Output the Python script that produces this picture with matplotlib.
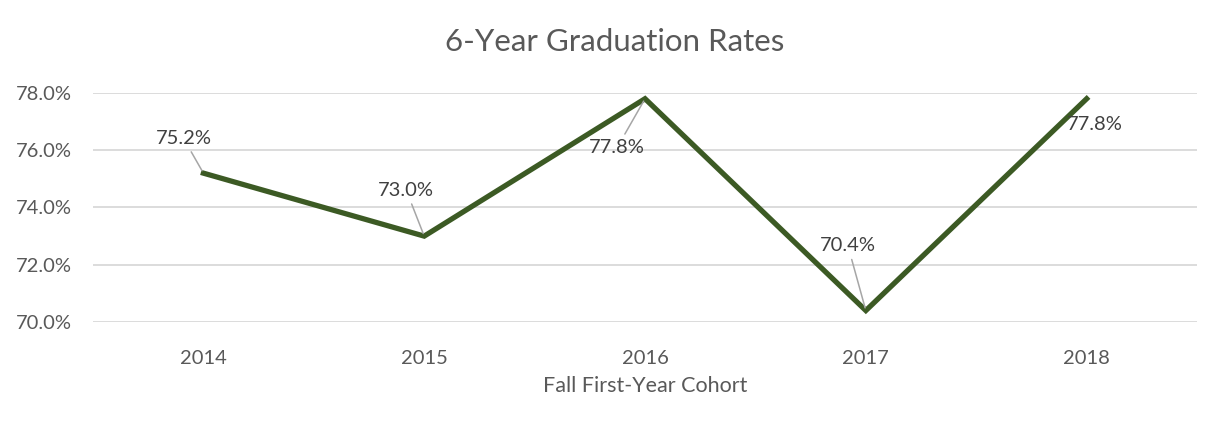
import matplotlib.pyplot as plt
from matplotlib.ticker import FuncFormatter

plt.rcParams['font.family'] = ['Lato', 'DejaVu Sans']

years = ['2014', '2015', '2016', '2017', '2018']
rates = [75.2, 73.0, 77.8, 70.4, 77.8]
label_text = ['75.2%', '73.0%', '77.8%', '70.4%', '77.8%']
# label offsets in pixels (dx, dy) and whether a leader line is drawn
offsets = [(-20, 35), (-18, 46), (-28, -49), (-18, 65), (8, -26)]
leaders = [True, True, True, True, False]

fig = plt.figure(figsize=(12.22, 4.34), dpi=100)
ax = fig.add_axes([0.0761, 0.2581, 0.9035, 0.5276])

x = list(range(len(years)))
ax.plot(x, rates, color='#3c5a24', lw=3.8, solid_joinstyle='miter', zorder=3)

for i, (v, t) in enumerate(zip(rates, label_text)):
    dx, dy = offsets[i]
    ap = dict(arrowstyle='-', color='#a6a6a6', lw=1.1, shrinkA=2, shrinkB=2) if leaders[i] else None
    ax.annotate(t, xy=(i, v), xytext=(dx, dy), textcoords='offset pixels',
                ha='center', va='center', fontsize=14.5, color='#404040',
                arrowprops=ap, zorder=4)

ax.set_xlim(-0.5, 4.5)
ax.set_ylim(70, 78)
ax.set_xticks(x)
ax.set_xticklabels(years)
ax.set_yticks([70, 72, 74, 76, 78])
ax.yaxis.set_major_formatter(FuncFormatter(lambda v, p: '%.1f%%' % v))
ax.grid(axis='y', color='#d9d9d9', lw=1.3, zorder=0)
ax.set_axisbelow(True)
for s in ax.spines.values():
    s.set_visible(False)
ax.tick_params(length=0, labelsize=14.5, labelcolor='#595959')
ax.tick_params(axis='x', pad=20)
ax.tick_params(axis='y', pad=15)

ax.set_xlabel('Fall First-Year Cohort', fontsize=15.5, color='#595959', labelpad=7)
fig.text(0.503, 0.903, '6-Year Graduation Rates', ha='center', va='center',
         fontsize=22.5, color='#595959')

fig.savefig('out.png', dpi=100)
